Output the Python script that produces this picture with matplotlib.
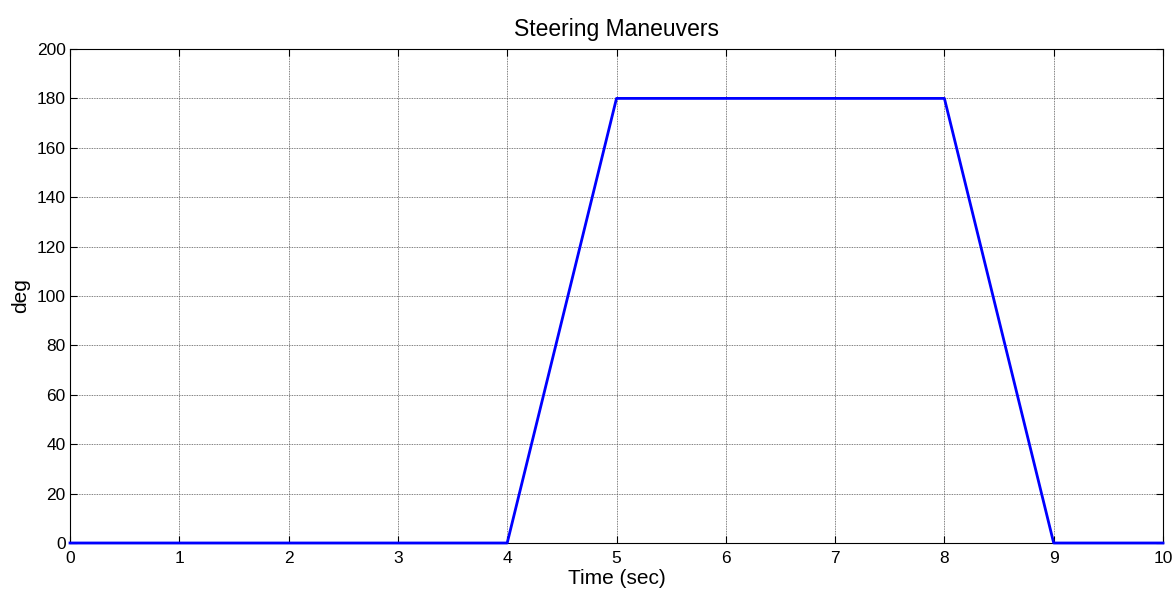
import matplotlib
matplotlib.use("Agg")
import matplotlib.pyplot as plt

time_sec = [0, 4, 5, 8, 9, 10]
steer_deg = [0, 0, 180, 180, 0, 0]
x_ticks = list(range(0, 11))
y_ticks = list(range(0, 201, 20))

plt.rcParams['font.family'] = ['Liberation Sans', 'DejaVu Sans']
fig = plt.figure(figsize=(11.74, 5.89), dpi=100)
ax = fig.add_axes([70/1174, 1-543/589, (1163-70)/1174, (543-49)/589])
ax.plot(time_sec, steer_deg, color='#0000ff', linewidth=2, clip_on=False, zorder=3)
ax.set_xlim(0, 10)
ax.set_ylim(0, 200)
ax.set_xticks(x_ticks)
ax.set_yticks(y_ticks)
ax.grid(True, color='#555555', linestyle=(0, (1, 1)), linewidth=0.6)
ax.tick_params(direction='in', top=True, right=True, length=5, labelsize=12.5, width=0.8)
ax.tick_params(axis='x', pad=5.5)
ax.tick_params(axis='y', pad=3)
for s in ax.spines.values():
    s.set_linewidth(0.8)
ax.set_xlabel('Time (sec)', fontsize=15, labelpad=2.5)
ax.set_ylabel('deg', fontsize=15, labelpad=5)
ax.set_title('Steering Maneuvers', fontsize=16.5, pad=9.5)
fig.savefig('out.png', dpi=100)
